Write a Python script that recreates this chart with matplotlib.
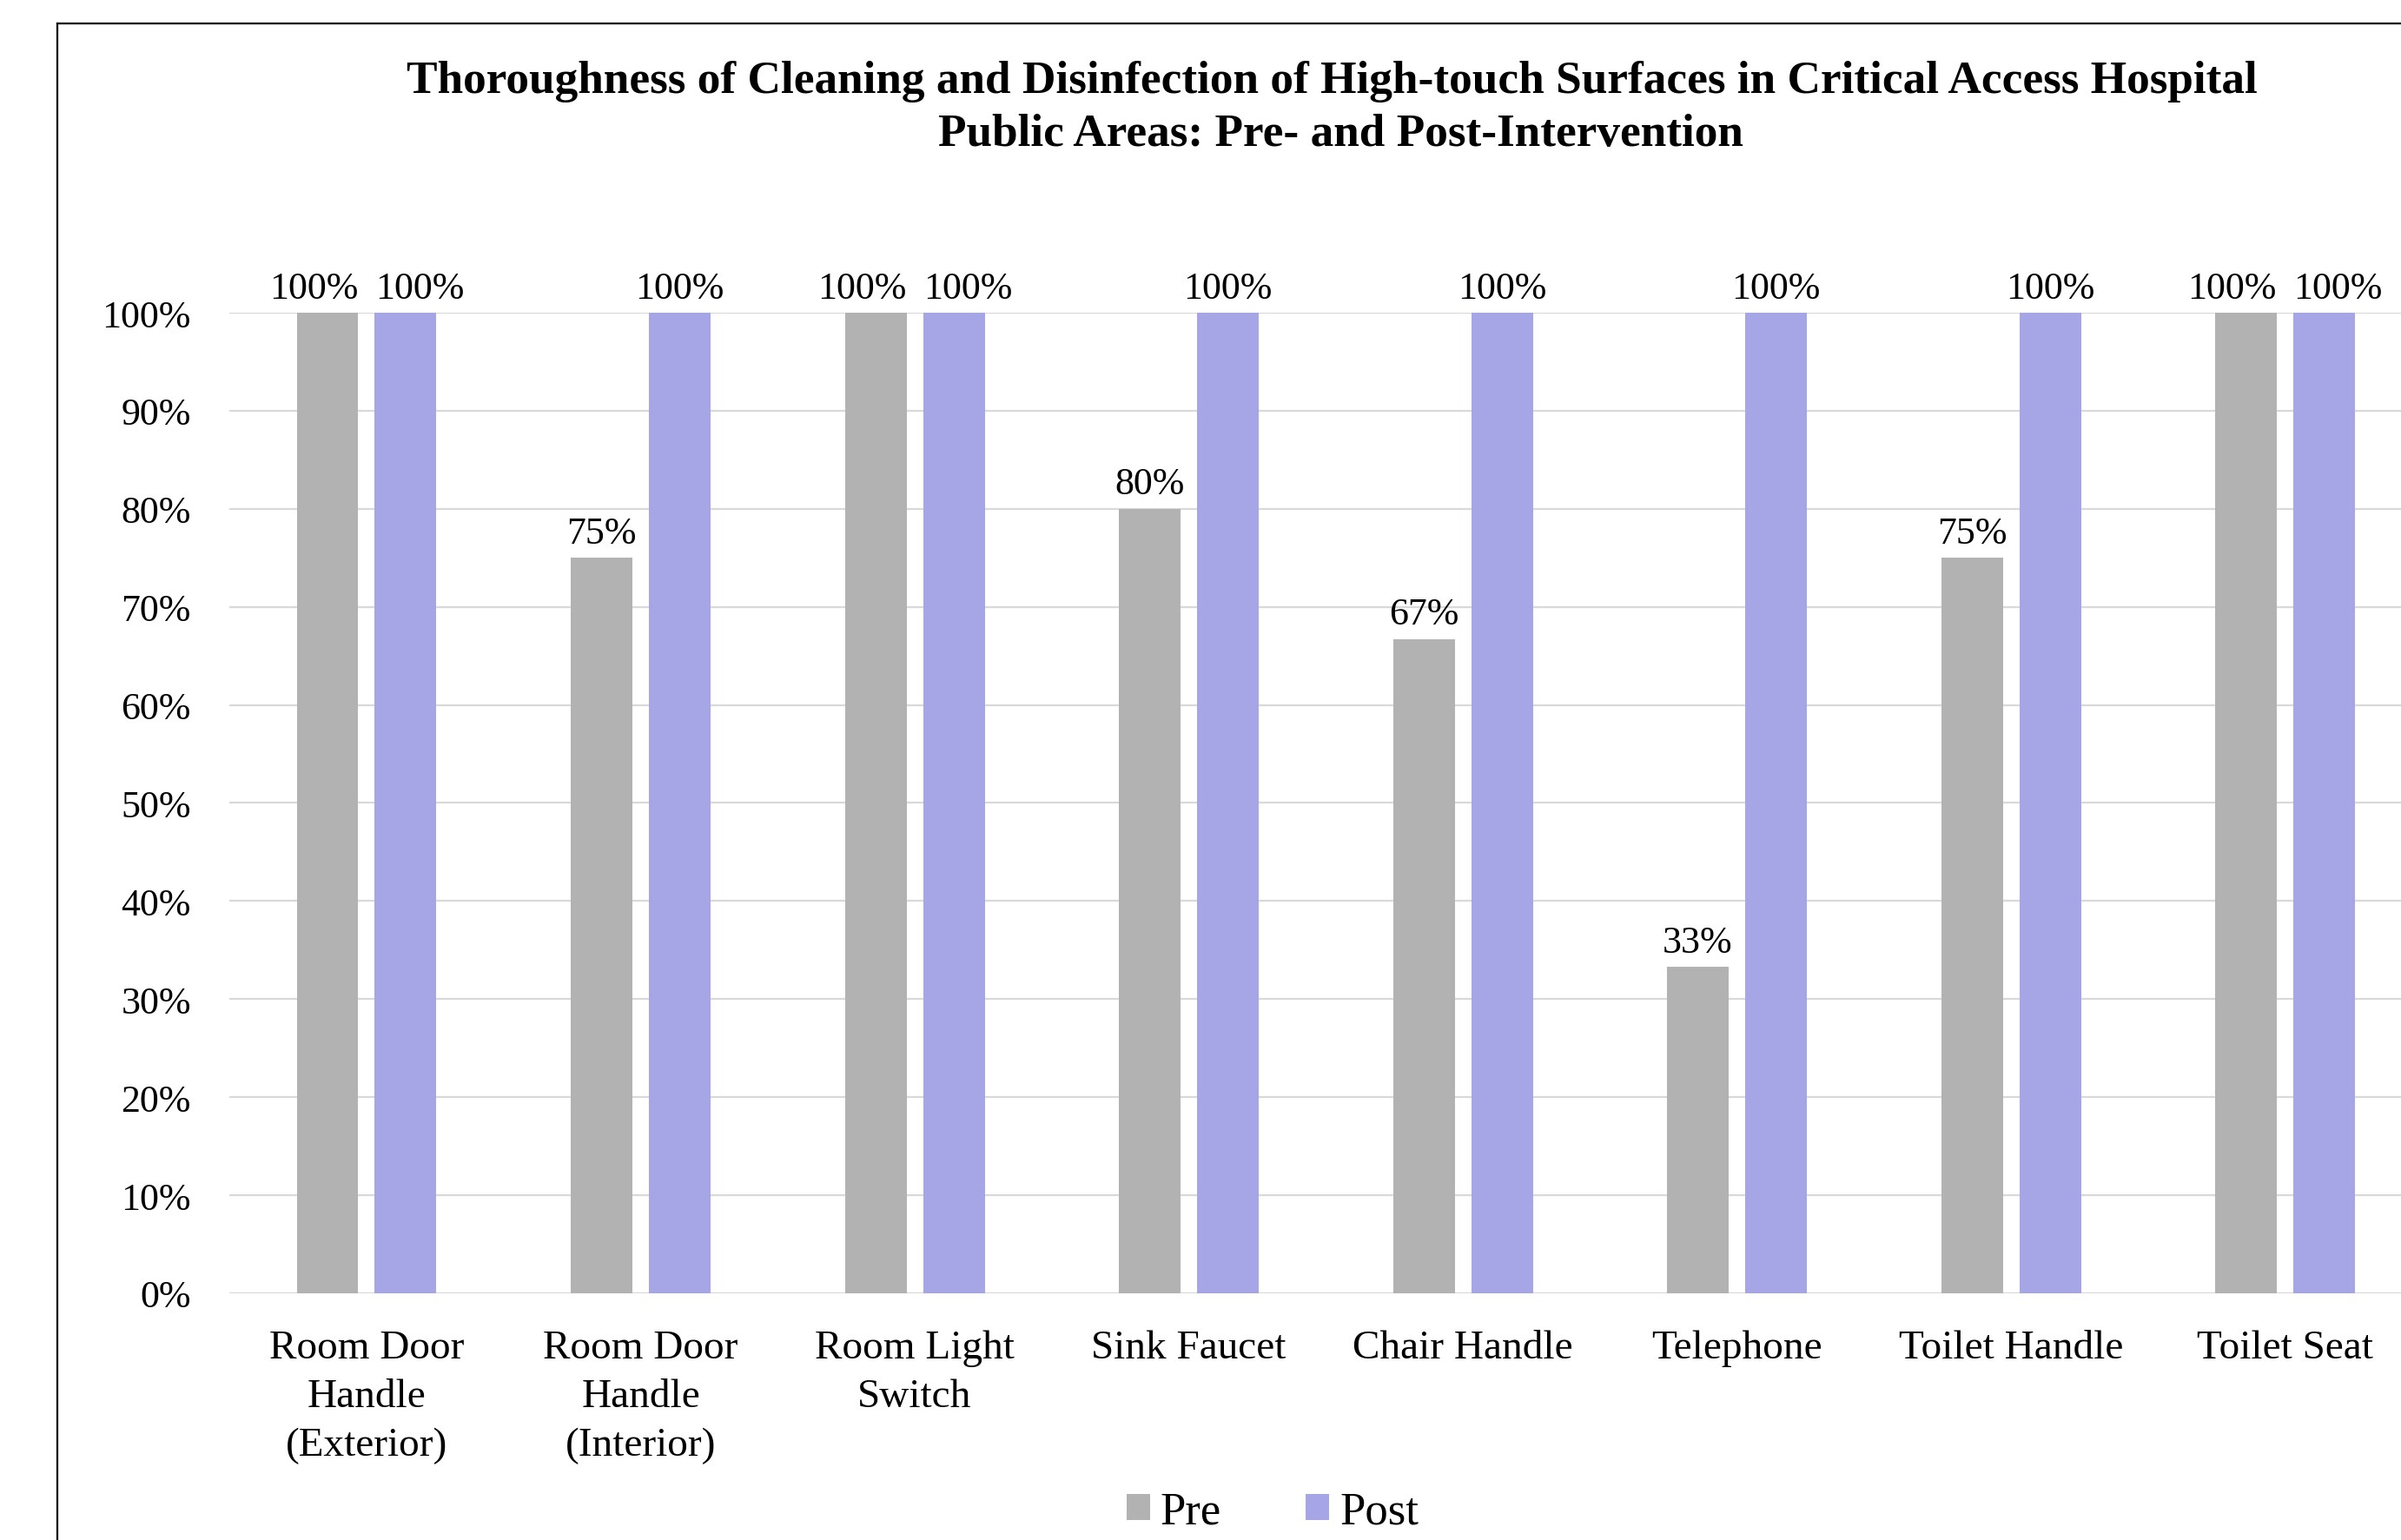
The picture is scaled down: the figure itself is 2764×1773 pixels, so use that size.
import matplotlib
matplotlib.use("Agg")
import matplotlib.pyplot as plt
from matplotlib.patches import Patch
from matplotlib.lines import Line2D
from matplotlib.ticker import PercentFormatter, MultipleLocator
import numpy as np

plt.rcParams["font.family"] = ["Liberation Serif", "DejaVu Serif"]

# Data
categories = [
    "Room Door\nHandle\n(Exterior)",
    "Room Door\nHandle\n(Interior)",
    "Room Light\nSwitch",
    "Sink Faucet",
    "Chair Handle",
    "Telephone",
    "Toilet Handle",
    "Toilet Seat",
]
pre = [1.00, 0.75, 1.00, 0.80, 0.667, 0.333, 0.75, 1.00]
post = [1.00, 1.00, 1.00, 1.00, 1.00, 1.00, 1.00, 1.00]
series_names = ["Pre", "Post"]
title_lines = [
    "Thoroughness of Cleaning and Disinfection of High-touch Surfaces in Critical Access Hospital",
    "Public Areas: Pre- and Post-Intervention",
]

PRE_COLOR = "#B2B2B2"
POST_COLOR = "#A6A6E6"
GRID_COLOR = "#D9D9D9"

W, H, DPI = 2764, 1774, 200
fig = plt.figure(figsize=(W / DPI, H / DPI), dpi=DPI)
fig.patch.set_facecolor("white")

# Plot area (right edge runs past the canvas, as in the exported chart)
ax = fig.add_axes([0.0956, 0.1601, 0.9132, 0.6364])
ax.set_facecolor("white")

x = np.arange(len(categories))
bw = 0.225
off = 0.1426
ax.bar(x - off, pre, width=bw, color=PRE_COLOR, zorder=3, label=series_names[0])
ax.bar(x + off, post, width=bw, color=POST_COLOR, zorder=3, label=series_names[1])

ax.set_xlim(-0.5, len(categories) - 0.5)
ax.set_ylim(0, 1.0)
ax.yaxis.set_major_locator(MultipleLocator(0.1))
ax.yaxis.set_major_formatter(PercentFormatter(xmax=1.0, decimals=0))
ax.grid(axis="y", color=GRID_COLOR, linewidth=0.8, zorder=0)
ax.set_axisbelow(True)
for s in ax.spines.values():
    s.set_visible(False)

ax.tick_params(axis="y", length=0, pad=16, labelsize=15.8)
ax.tick_params(axis="x", length=0, pad=14.8, labelsize=17)
ax.set_xticks(x)
ax.set_xticklabels(categories, linespacing=1.43)

# Value labels; nudge apart where both labels in a group sit at the same height
for i, (a, b) in enumerate(zip(pre, post)):
    nudge = 5.8 if abs(a - b) < 1e-9 else 0.0
    ax.annotate(f"{a:.0%}", (i - off, a), xytext=(-nudge, 6.3), textcoords="offset points",
                ha="center", va="baseline", fontsize=15.8, clip_on=False)
    ax.annotate(f"{b:.0%}", (i + off, b), xytext=(nudge, 6.3), textcoords="offset points",
                ha="center", va="baseline", fontsize=15.8, clip_on=False)

# Title
fig.text(0.5549, 1 - 107 / H, title_lines[0], ha="center", va="baseline",
         fontsize=19.2, fontweight="bold")
fig.text(0.5583, 1 - 168 / H, title_lines[1], ha="center", va="baseline",
         fontsize=19.2, fontweight="bold")

# Legend
handles = [Patch(facecolor=PRE_COLOR, edgecolor="none"),
           Patch(facecolor=POST_COLOR, edgecolor="none")]
fig.legend(handles, series_names, loc="center", bbox_to_anchor=(0.530, 1 - 1742 / H),
           ncol=2, frameon=False, fontsize=19, handlelength=0.51, handleheight=0.51,
           handletextpad=0.23, columnspacing=1.84, borderpad=0, borderaxespad=0)

# Chart border
bx, by = 66 / W, 1 - 28 / H
fig.add_artist(Line2D([bx, bx], [by, -0.05], transform=fig.transFigure,
                      color="black", linewidth=0.8))
fig.add_artist(Line2D([bx, 1.05], [by, by], transform=fig.transFigure,
                      color="black", linewidth=0.8))

fig.savefig("out.png", dpi=DPI, facecolor="white")
